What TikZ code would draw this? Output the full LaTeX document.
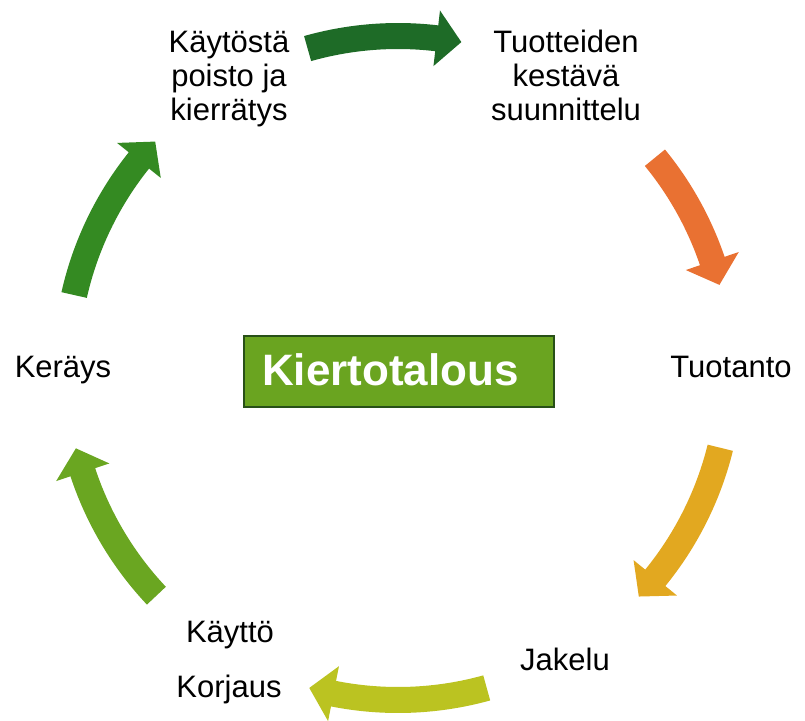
\documentclass[tikz,border=0pt]{standalone}
\usepackage{fontspec}
\setmainfont{Liberation Sans}
\definecolor{arrA}{HTML}{1E6B27}
\definecolor{arrB}{HTML}{E97132}
\definecolor{arrC}{HTML}{E2A820}
\definecolor{arrD}{HTML}{BBC321}
\definecolor{arrE}{HTML}{6AA621}
\definecolor{arrF}{HTML}{348A22}
\definecolor{boxfill}{HTML}{6AA420}
\definecolor{boxline}{HTML}{285018}
\newcommand\cyclearrow[3]{%
  \pgfmathsetmacro\hbase{#3+4.3}%
  \fill[#1] (#2:345pt) arc[start angle=#2, end angle=\hbase, radius=345pt]
    -- (\hbase:360pt) -- (#3:332pt) -- (\hbase:304pt) -- (\hbase:319pt)
    arc[start angle=\hbase, end angle=#2, radius=319pt] -- cycle;
}
\tikzset{
  lbl/.style={font=\fontsize{31}{34}\selectfont, align=center, inner sep=0pt, anchor=base},
}
\begin{document}
\begin{tikzpicture}[x=1pt,y=1pt]
\useasboundingbox (0,0) rectangle (805,-720);
\begin{scope}[shift={(398,-368)}]
  \cyclearrow{arrA}{105.8}{79}
  \cyclearrow{arrB}{39.3}{14.5}
  \cyclearrow{arrC}{-13.9}{-43.5}
  \cyclearrow{arrD}{-74.5}{-105.5}
  \cyclearrow{arrE}{-136.7}{-166}
  \cyclearrow{arrF}{167.3}{137}
\end{scope}
\node[draw=boxline, line width=2pt, fill=boxfill, minimum width=310pt, minimum height=71pt, inner sep=0pt] (box) at (399,-371.5) {};
\node[text=white, font=\bfseries\fontsize{44}{50}\selectfont, inner sep=0pt, anchor=base] (title) at (390.5,-385) {Kiertotalous};
\node[lbl] (poisto) at (229,-120) {Käytöstä\\poisto ja\\kierrätys};
\node[lbl] (suunnittelu) at (566,-120) {Tuotteiden\\kestävä\\suunnittelu};
\node[lbl] (tuotanto) at (731,-377) {Tuotanto};
\node[lbl] (jakelu) at (565,-670) {Jakelu};
\node[lbl] (kaytto) at (230,-642) {Käyttö};
\node[lbl] (korjaus) at (229,-697) {Korjaus};
\node[lbl] (kerays) at (63,-377) {Keräys};
\end{tikzpicture}
\end{document}
